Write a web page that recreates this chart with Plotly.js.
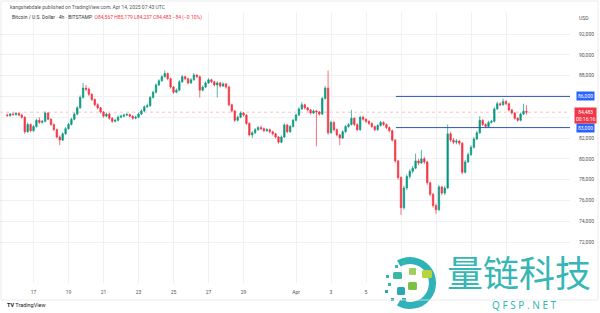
<!DOCTYPE html>
<html><head><meta charset="utf-8">
<script src="https://cdn.plot.ly/plotly-3.0.1.min.js"></script>
<style>html,body{margin:0;padding:0;background:#fff}#chart{width:600px;height:313px}</style>
</head><body><div id="chart"></div>
<script>
// ---- data (BTC/USD 4h) ----
const firstCandleUTC = [2025, 2, 15, 12]; // Mar 15 2025 12:00
const candleHours = 4;
const opens = [
84200,84150,84300,
84250,84350,84200,84000,82600,83300,
82700,83100,83700,83500,83600,84400,
83800,83300,82800,82100,81800,82400,
82900,83300,83800,84300,84900,85900,
86800,86700,86200,85700,85200,84900,
84500,84100,84300,83900,83600,83700,
84000,84100,84200,84250,84100,83900,
84000,84300,84600,85000,85100,85900,
86400,87100,87500,87900,88200,87700,
86900,86400,86600,87400,87900,87700,
87300,87600,88050,87900,86600,86900,
87300,87600,87400,87100,87300,87000,
87200,86900,85200,84600,83700,84000,
84400,84200,83400,82300,82500,82800,
83000,82900,82700,82800,82600,82400,
82100,81600,82100,83250,82600,83100,
83700,84200,84800,85200,84900,84700,
84400,84600,84500,84300,85800,86800,
82500,83500,82800,82300,82000,82600,
83100,83300,83900,83300,82800,84000,
83800,83600,83400,83100,82800,83200,
83500,83300,83000,82700,81800,79800,
78200,75300,77200,78300,78800,79100,
79800,79600,80000,79700,77700,76600,
75500,75100,77300,76700,77200,82400,
81800,81600,81700,81500,78700,79700,
80400,81100,81900,82500,83700,83300,
83100,83500,83600,84800,85300,85200,
85500,85300,84700,84400,83900,83700,
84300,84567];
const highs = [
84350,84400,84450,
84500,84450,84350,84100,83500,83400,
83250,83850,84000,83750,84550,84500,
83900,83400,82900,82250,82550,83050,
83450,83950,84450,85050,86100,87300,
87100,86850,86300,85800,85350,85000,
84600,84450,84400,84000,83850,84150,
84250,84350,84400,84350,84200,84150,
84450,84750,85150,85300,86050,86550,
87250,87650,88050,88500,88300,87800,
87000,86750,87550,88050,88000,87800,
87750,88250,88150,88000,87050,87450,
87750,87700,87500,87450,87400,87350,
87300,87000,85300,84700,84150,84550,
84500,84300,83500,82650,82950,83150,
83200,83000,82950,82900,82700,82500,
82200,82250,83400,83350,83250,83850,
84350,84950,85450,85300,85000,84800,
84750,84700,84600,85950,87000,88500,
83650,83600,82900,82400,82750,83250,
83450,84700,84000,83400,84150,84150,
83900,83700,83500,83200,83350,83650,
83600,83400,83100,82800,81900,79900,
78300,77400,78500,79000,79300,80500,
80000,80850,80200,79800,77800,76700,
75700,77500,77400,77400,83300,82600,
82000,81900,81800,81600,79900,80600,
81300,82100,82700,84100,83800,83400,
83650,83750,84950,85500,85450,85800,
85650,85400,84800,84500,84000,84450,
85300,85179];
const lows = [
84050,84050,84150,
84150,84100,83850,82400,82500,82550,
82600,83000,83350,83400,83500,83700,
83150,82700,81950,81300,81700,82300,
82800,83200,83700,84200,84800,85800,
86500,86050,85550,85050,84750,84350,
83950,84000,83750,83450,83500,83600,
83900,84000,84100,84000,83750,83800,
83900,84200,84500,84900,85000,85800,
86300,87000,87400,87800,87550,86750,
86250,86300,86500,87300,87550,87150,
87200,87500,87750,85900,86500,86800,
87200,87250,86950,85900,86850,86900,
86750,85050,84450,83550,83600,83900,
84050,83250,82150,82000,82400,82700,
82750,82550,82600,82450,82250,81950,
81450,81500,82000,82450,82500,83000,
83600,84100,84700,84750,84550,84250,
84300,81200,84150,84200,85700,82300,
82400,82650,82150,81300,81900,82500,
83000,83200,83150,82650,82700,83650,
83450,83250,82950,82650,82700,83100,
83150,82850,82550,81650,79600,78000,
74600,75100,77000,78100,78600,79000,
79400,79500,79500,77500,76400,75300,
74700,75000,76500,76500,77100,81600,
81400,81400,81300,78500,78600,79600,
80300,81000,81800,82400,83150,82950,
83000,83400,83500,84700,85050,85100,
85150,84550,84250,83750,83550,83600,
84200,84237];
const closes = [
84150,84300,84250,
84350,84200,84000,82600,83300,82700,
83100,83700,83500,83600,84400,83800,
83300,82800,82100,81800,82400,82900,
83300,83800,84300,84900,85900,86800,
86700,86200,85700,85200,84900,84500,
84100,84300,83900,83600,83700,84000,
84100,84200,84250,84100,83900,84000,
84300,84600,85000,85100,85900,86400,
87100,87500,87900,88200,87700,86900,
86400,86600,87400,87900,87700,87300,
87600,88050,87900,86600,86900,87300,
87600,87400,87100,87300,87000,87200,
86900,85200,84600,83700,84000,84400,
84200,83400,82300,82500,82800,83000,
82900,82700,82800,82600,82400,82100,
81600,82100,83250,82600,83100,83700,
84200,84800,85200,84900,84700,84400,
84600,84500,84300,85800,86800,82500,
83500,82800,82300,82000,82600,83100,
83300,83900,83300,82800,84000,83800,
83600,83400,83100,82800,83200,83500,
83300,83000,82700,81800,79800,78200,
75300,77200,78300,78800,79100,79800,
79600,80000,79700,77700,76600,75500,
75100,77300,76700,77200,82400,81800,
81600,81700,81500,78700,79700,80400,
81100,81900,82500,83700,83300,83100,
83500,83600,84800,85300,85200,85500,
85300,84700,84400,83900,83700,84300,
84567,84483];

const levels = [86000, 83000];          // horizontal support / resistance rays
const levelLabels = ['86,000', '83,000'];
const levelStart = '2025-04-06 17:00';
const lastPrice = 84483;
const lastPriceLabel = '84,483<br>00:16:16';

const priceTicks = [72000,74000,76000,78000,80000,82000,84000,86000,88000,90000,92000];
const priceTickText = ['72,000','74,000','76,000','78,000','80,000','82,000','','','88,000','90,000','92,000'];
const dateTicks = ['2025-03-17','2025-03-19','2025-03-21','2025-03-23','2025-03-25','2025-03-27','2025-03-29','2025-04-01','2025-04-03','2025-04-05','2025-04-07','2025-04-09','2025-04-11','2025-04-13'];
const dateTickText = ['17','19','21','23','25','27','29','Apr','3','5','','','',''];

const xRange = ['2025-03-15 02:03', '2025-04-16 15:46'];
const yRange = [68058, 94115];

// ---- build ----
const pad = n => String(n).padStart(2, '0');
const t0 = Date.UTC(firstCandleUTC[0], firstCandleUTC[1], firstCandleUTC[2], firstCandleUTC[3]);
const times = opens.map((_, i) => {
  const d = new Date(t0 + i * candleHours * 3600e3);
  return d.getUTCFullYear() + '-' + pad(d.getUTCMonth() + 1) + '-' + pad(d.getUTCDate()) + ' ' + pad(d.getUTCHours()) + ':00';
});

const UP = '#089981', DOWN = '#f23645', BLUE = '#2962ff';
const F = 'Roboto, "Liberation Sans", sans-serif';

const traces = [{
  type: 'candlestick', x: times, open: opens, high: highs, low: lows, close: closes,
  increasing: {line: {color: UP, width: 0.7}, fillcolor: UP},
  decreasing: {line: {color: DOWN, width: 0.7}, fillcolor: DOWN},
  whiskerwidth: 0, hoverinfo: 'skip', showlegend: false
}];

const W = 600, H = 313;
const px = x => x / W, py = y => 1 - y / H;

const shapes = [
  {type: 'line', xref: 'paper', yref: 'y', x0: 0, x1: 0.95, y0: lastPrice, y1: lastPrice,
   line: {color: DOWN, width: 0.7, dash: 'dot'}, opacity: 0.45, layer: 'below'},
  {type: 'rect', xref: 'paper', yref: 'paper', x0: px(1), x1: px(598), y0: py(300), y1: py(1),
   line: {color: '#e6e6e6', width: 0.8}}
];
levels.forEach(v => shapes.push({type: 'line', xref: 'x', yref: 'y', x0: levelStart, x1: xRange[1],
  y0: v, y1: v, line: {color: '#2a55b8', width: 1}}));

const annotations = [
  {text: 'kangshebdale published on TradingView.com, Apr 14, 2025 07:43 UTC', x: px(8), y: py(7),
   font: {size: 5, color: '#555', family: F}},
  {text: 'Bitcoin / U.S. Dollar · 4h · BITSTAMP  <span style="color:#f23645">O84,567 H85,179 L84,237 C84,483 −84 (−0.10%)</span>',
   x: px(10), y: py(17), font: {size: 5, color: '#333', family: F}},
  {text: 'USD', x: px(577), y: py(18), font: {size: 5, color: '#555', family: F}},
  {text: '<b>TV</b> TradingView', x: px(5), y: py(305), font: {size: 5.5, color: '#222', family: F}},
  {text: '量链科技', x: px(519), y: py(271), xanchor: 'center',
   font: {size: 36, color: '#36b6b4', family: '"Noto Sans CJK SC", sans-serif'}},
  {text: 'Q F S P . N E T', x: px(524), y: py(305), xanchor: 'center',
   font: {size: 10, color: '#36b6b4', family: '"Noto Sans", sans-serif'}}
].map(a => Object.assign({xref: 'paper', yref: 'paper', xanchor: 'left', yanchor: 'middle', showarrow: false}, a));

levels.forEach((v, i) => annotations.push({xref: 'paper', yref: 'y', x: px(585), y: v, xanchor: 'center', yanchor: 'middle',
  text: levelLabels[i], showarrow: false, bgcolor: BLUE, borderpad: 1,
  font: {size: 5, color: '#fff', family: F}}));
annotations.push({xref: 'paper', yref: 'y', x: px(585), y: lastPrice, xanchor: 'center', yanchor: 'middle', yshift: -3,
  text: lastPriceLabel, showarrow: false, bgcolor: DOWN, borderpad: 1,
  font: {size: 5, color: '#fff', family: F}});

const logoSvg = '<svg xmlns="http://www.w3.org/2000/svg" viewBox="0 0 56 59">' +
  '<path d="M15,7.5 A26,26 0 1 1 15,52.5 L18.5,46.5 A19,19 0 1 0 18.5,13.5 Z" fill="#2fb3b8"/>' +
  '<rect x="40" y="17" width="10" height="8" rx="1.5" fill="#b7d43a"/>' +
  '<rect x="27" y="15" width="7" height="7" rx="1" fill="#9fd05a"/>' +
  '<rect x="26" y="29" width="9" height="8" rx="1.5" fill="#7cc242"/>' +
  '<rect x="11" y="19" width="9" height="7" rx="1.5" fill="#3bb8a5"/>' +
  '<rect x="15" y="34" width="8" height="8" rx="1.5" fill="#2aa7b0"/>' +
  '<rect x="4" y="22" width="3" height="3" fill="#3bb8a5"/>' +
  '<rect x="6" y="30" width="3" height="3" fill="#3bb8a5"/>' +
  '<rect x="3" y="37" width="3" height="3" fill="#2aa7b0"/>' +
  '<rect x="9" y="45" width="3" height="3" fill="#2aa7b0"/>' +
  '<rect x="20" y="45" width="4" height="4" fill="#2aa7b0"/>' +
  '<rect x="13" y="12" width="3" height="3" fill="#3bb8a5"/>' +
  '<rect x="20" y="8" width="3" height="3" fill="#3bb8a5"/>' +
  '</svg>';

const layout = {
  width: W, height: H, margin: {l: 0, r: 0, t: 0, b: 0},
  paper_bgcolor: '#fff', plot_bgcolor: '#fff', showlegend: false,
  xaxis: {type: 'date', domain: [0, 0.95], range: xRange, tickvals: dateTicks, ticktext: dateTickText,
    showgrid: true, gridcolor: '#f0f1f3', gridwidth: 1, zeroline: false, showline: false, ticks: '',
    tickfont: {size: 5, color: '#555', family: F}, ticklabelstandoff: 5, rangeslider: {visible: false}, fixedrange: true},
  yaxis: {domain: [py(283), py(12)], range: yRange, side: 'right', tickvals: priceTicks, ticktext: priceTickText,
    showgrid: true, gridcolor: '#f0f1f3', zeroline: false, showline: false, ticks: '',
    tickfont: {size: 5, color: '#555', family: F}, ticklabelstandoff: 8, fixedrange: true},
  shapes: shapes, annotations: annotations,
  images: [{source: 'data:image/svg+xml;charset=utf-8,' + encodeURIComponent(logoSvg), xref: 'paper', yref: 'paper',
    x: px(382), y: py(253), sizex: 56 / W, sizey: 59 / H, sizing: 'stretch', xanchor: 'left', yanchor: 'top', layer: 'above'}]
};

Plotly.newPlot('chart', traces, layout, {displayModeBar: false, staticPlot: true});
</script>
</body></html>
